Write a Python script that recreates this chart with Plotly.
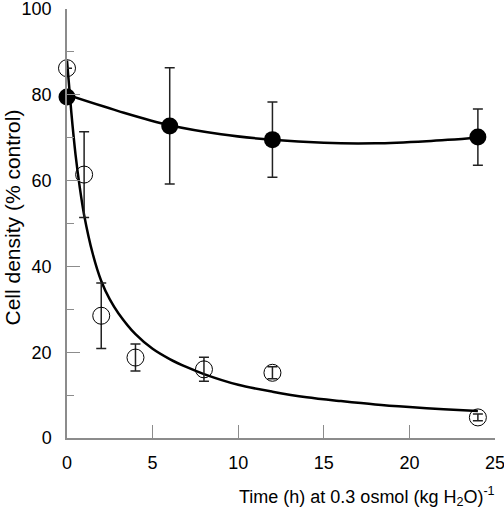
import plotly.graph_objects as go

time_control = [0, 6, 12, 24]
density_control = [79.5, 72.75, 69.55, 70.15]
err_control = [0, 13.55, 8.75, 6.55]

time_osmotic = [0, 1, 2, 4, 8, 12, 24]
density_osmotic = [86.2, 61.4, 28.5, 18.75, 16.0, 15.2, 4.8]
err_osmotic = [0, 10.0, 7.65, 3.15, 2.8, 1.4, 0.8]

# Fitted curves
fit_time_control = [0, 3, 6, 9, 12, 15, 18, 21, 24]
fit_control = [80.0, 76.2, 72.9, 70.8, 69.5, 68.8, 68.7, 69.2, 70.0]

fit_time_osmotic = [0, 0.25, 0.5, 0.75, 1, 1.5, 2, 2.5, 3, 4, 5, 6, 7, 8,
                    10, 12, 14, 16, 18, 20, 22, 24]
fit_osmotic = [88.0, 76.0, 66.0, 58.3, 52.0, 43.0, 36.6, 32.3, 29.1, 24.2,
               20.8, 18.4, 16.5, 14.9, 12.4, 10.8, 9.5, 8.6, 7.8, 7.2, 6.7, 6.3]

x_ticks = [0, 5, 10, 15, 20, 25]
y_ticks = [0, 20, 40, 60, 80, 100]

FONT = "Liberation Sans, Arial, sans-serif"
AXIS_GRAY = "#8c8c8c"

fig = go.Figure()

fig.add_trace(go.Scatter(
    x=fit_time_osmotic, y=fit_osmotic, mode="lines",
    line=dict(color="black", width=2.5, shape="spline", smoothing=0.8),
    cliponaxis=False, showlegend=False, hoverinfo="skip"))

fig.add_trace(go.Scatter(
    x=fit_time_control, y=fit_control, mode="lines",
    line=dict(color="black", width=2.5, shape="spline"),
    cliponaxis=False, showlegend=False, hoverinfo="skip"))

fig.add_trace(go.Scatter(
    x=time_osmotic, y=density_osmotic, mode="markers",
    marker=dict(symbol="circle-open", size=17, color="black",
                line=dict(color="black", width=1)),
    error_y=dict(type="data", array=err_osmotic, visible=True,
                 color="#222222", thickness=1.5, width=5),
    cliponaxis=False, showlegend=False))

fig.add_trace(go.Scatter(
    x=time_control, y=density_control, mode="markers",
    marker=dict(symbol="circle", size=17, color="black"),
    error_y=dict(type="data", array=err_control, visible=True,
                 color="#222222", thickness=1.5, width=5),
    cliponaxis=False, showlegend=False))

fig.update_layout(
    width=504, height=512,
    margin=dict(l=67, r=9, t=9, b=74, autoexpand=False),
    paper_bgcolor="white", plot_bgcolor="white",
    font=dict(family=FONT, size=18, color="black"),
    xaxis=dict(
        range=[0, 25], tickmode="array", tickvals=x_ticks,
        ticktext=[str(v) for v in x_ticks],
        showline=True, linecolor=AXIS_GRAY, linewidth=1.5,
        ticks="inside", ticklen=13, tickwidth=1.2, tickcolor=AXIS_GRAY,
        showgrid=False, zeroline=False, ticklabelstandoff=8,
        ticklabeloverflow="allow", automargin=False,
        tickfont=dict(family=FONT, size=18, color="black")),
    yaxis=dict(
        range=[0, 100], tickmode="array", tickvals=y_ticks,
        ticktext=[str(v) for v in y_ticks],
        showline=True, linecolor=AXIS_GRAY, linewidth=1.5,
        ticks="inside", ticklen=13, tickwidth=1.2, tickcolor=AXIS_GRAY,
        minor=dict(ticks="inside", ticklen=7, tickwidth=1.2, tickcolor=AXIS_GRAY,
                   dtick=10, showgrid=False),
        showgrid=False, zeroline=False, ticklabelstandoff=10,
        ticklabeloverflow="allow", automargin=False,
        tickfont=dict(family=FONT, size=18, color="black")),
    annotations=[
        dict(text="Time (h) at 0.3 osmol (kg H<sub>2</sub>O)<sup>-1</sup>",
             xref="paper", yref="paper", x=0.70, y=-0.136,
             xanchor="center", yanchor="middle", showarrow=False,
             font=dict(family=FONT, size=18, color="black")),
        dict(text="Cell density (% control)",
             xref="paper", yref="paper", x=-0.1285, y=0.514,
             xanchor="center", yanchor="middle", textangle=-90, showarrow=False,
             font=dict(family=FONT, size=21, color="black")),
    ],
)

fig.write_html(
    "out.html",
    config={"displayModeBar": False},
    post_script="document.body.style.margin='0';document.body.style.overflow='hidden';",
)
